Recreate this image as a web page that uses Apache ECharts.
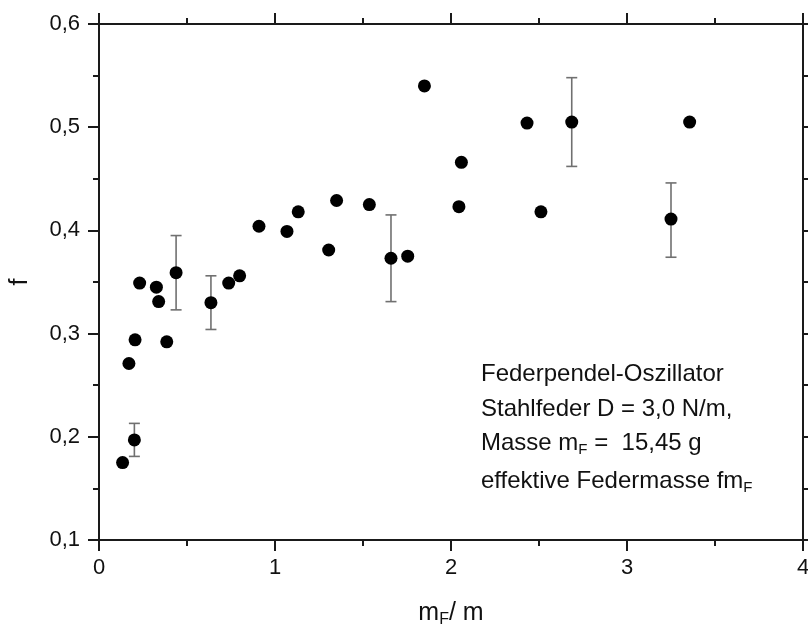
<!DOCTYPE html>
<html>
<head>
<meta charset="utf-8">
<script src="https://cdn.jsdelivr.net/npm/echarts@6/dist/echarts.min.js"></script>
<style>
  html, body { margin: 0; padding: 0; background: #fff; }
  #chart { width: 808px; height: 627px; }
</style>
</head>
<body>
<div id="chart"></div>
<script>
// measured points: m_F/m vs f
const massRatio = [0.134, 0.201, 0.170, 0.205, 0.231, 0.326, 0.339, 0.385, 0.438, 0.636,
  0.737, 0.799, 0.909, 1.068, 1.132, 1.305, 1.350, 1.536, 1.659, 1.754,
  1.849, 2.045, 2.059, 2.432, 2.511, 2.686, 3.250, 3.356];
const freq = [0.175, 0.197, 0.271, 0.294, 0.349, 0.345, 0.331, 0.292, 0.359, 0.330,
  0.349, 0.356, 0.404, 0.399, 0.418, 0.381, 0.429, 0.425, 0.373, 0.375,
  0.540, 0.423, 0.466, 0.504, 0.418, 0.505, 0.411, 0.505];

// error bars (x, centre, half width)
const errX = [0.201, 0.438, 0.636, 1.659, 2.686, 3.250];
const errY = [0.197, 0.359, 0.330, 0.373, 0.505, 0.410];
const errD = [0.016, 0.036, 0.026, 0.042, 0.043, 0.036];

const xTicks = [0, 1, 2, 3, 4];
const yTicks = [0.1, 0.2, 0.3, 0.4, 0.5, 0.6];

const FONT = "Liberation Sans, Arial, sans-serif";
const AX = "#1a1a1a";

const chart = echarts.init(document.getElementById("chart"));

const axisCommon = {
  axisLine: { show: true, onZero: false, lineStyle: { color: AX, width: 2 } },
  axisTick: { show: true, inside: false, length: 11, lineStyle: { color: AX, width: 2 } },
  minorTick: { show: true, splitNumber: 2, length: 6, lineStyle: { color: AX, width: 2 } },
  splitLine: { show: false },
  minorSplitLine: { show: false },
};

const sub = { fontSize: 15, fontFamily: FONT, color: "#111", padding: [13, 0, 0, 0] };
const main = { fontSize: 24, fontFamily: FONT, color: "#111" };
const subAx = { fontSize: 16, fontFamily: FONT, color: "#111", padding: [14, 0, 0, 0] };
const mainAx = { fontSize: 25, fontFamily: FONT, color: "#111" };

const noteLines = [
  { y: 374, text: "{m|Federpendel-Oszillator}" },
  { y: 409, text: "{m|Stahlfeder D = 3,0 N/m,}" },
  { y: 443, text: "{m|Masse m}{s|F}{m| =  15,45 g}" },
  { y: 481, text: "{m|effektive Federmasse fm}{s|F}" },
];

chart.setOption({
  animation: false,
  backgroundColor: "#fff",
  grid: { left: 99, right: 5, top: 24, bottom: 87, outerBoundsMode: "none", containLabel: false },
  xAxis: [
    Object.assign({}, axisCommon, {
      type: "value", min: xTicks[0], max: xTicks[xTicks.length - 1], interval: 1,
      position: "bottom",
      axisLabel: { fontSize: 22, fontFamily: FONT, color: "#111", margin: 17 },
      name: "{m|m}{s|F}{m|/ m}",
      nameLocation: "middle", nameGap: 58,
      nameTextStyle: { rich: { m: mainAx, s: subAx } },
    }),
    Object.assign({}, axisCommon, {
      type: "value", min: 0, max: 4, interval: 1, position: "top",
      axisLabel: { show: false },
    }),
  ],
  yAxis: [
    Object.assign({}, axisCommon, {
      type: "value", min: yTicks[0], max: yTicks[yTicks.length - 1], interval: 0.1,
      position: "left",
      axisLabel: {
        fontSize: 22, fontFamily: FONT, color: "#111", margin: 19,
        formatter: (v) => v.toFixed(1).replace(".", ","),
      },
      name: "f", nameLocation: "middle", nameGap: 66, nameRotate: 90,
      nameTextStyle: { fontSize: 25, fontFamily: FONT, color: "#111" },
    }),
    Object.assign({}, axisCommon, {
      type: "value", min: 0.1, max: 0.6, interval: 0.1, position: "right",
      axisLabel: { show: false },
    }),
  ],
  series: [
    {
      type: "custom",
      z: 1,
      data: errX.map((x, i) => [x, errY[i], errD[i]]),
      renderItem: (params, api) => {
        const x = api.value(0), y = api.value(1), d = api.value(2);
        const top = api.coord([x, y + d]);
        const bot = api.coord([x, y - d]);
        const w = 5.5;
        const st = { stroke: "#707070", lineWidth: 1.6 };
        return {
          type: "group",
          children: [
            { type: "line", shape: { x1: top[0], y1: top[1], x2: bot[0], y2: bot[1] }, style: st },
            { type: "line", shape: { x1: top[0] - w, y1: top[1], x2: top[0] + w, y2: top[1] }, style: st },
            { type: "line", shape: { x1: bot[0] - w, y1: bot[1], x2: bot[0] + w, y2: bot[1] }, style: st },
          ],
        };
      },
    },
    {
      type: "scatter",
      z: 2,
      symbol: "circle",
      symbolSize: 13,
      itemStyle: { color: "#000", opacity: 1 },
      data: massRatio.map((x, i) => [x, freq[i]]),
    },
  ],
  graphic: noteLines.map((l) => ({
    type: "text",
    x: 481,
    y: l.y,
    style: {
      text: l.text,
      fill: "#111",
      verticalAlign: "middle",
      rich: { m: main, s: sub },
    },
  })),
});
</script>
</body>
</html>
